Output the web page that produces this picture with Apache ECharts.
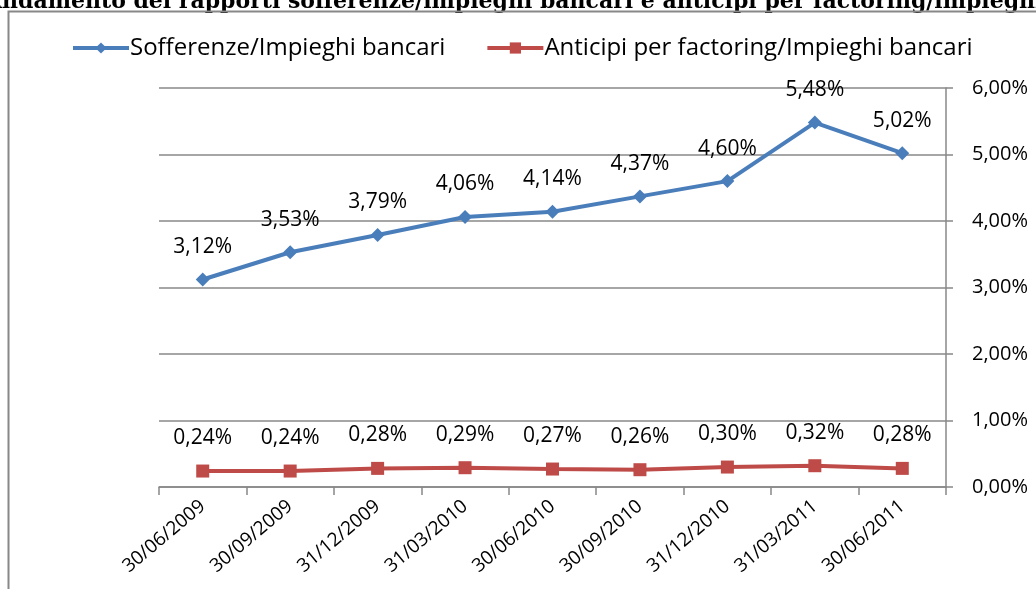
<!DOCTYPE html>
<html>
<head>
<meta charset="utf-8">
<script src="https://cdn.jsdelivr.net/npm/echarts@6/dist/echarts.min.js"></script>
<style>
  html, body { margin: 0; padding: 0; background: #fff; }
  #myChart { width: 1036px; height: 589px; }
</style>
</head>
<body>
<div id="myChart"></div>
<script>
  // dati
  var dates = ['30/06/2009', '30/09/2009', '31/12/2009', '31/03/2010', '30/06/2010',
               '30/09/2010', '31/12/2010', '31/03/2011', '30/06/2011'];
  var sofferenze = [3.12, 3.53, 3.79, 4.06, 4.14, 4.37, 4.60, 5.48, 5.02];
  var anticipi = [0.24, 0.24, 0.28, 0.29, 0.27, 0.26, 0.30, 0.32, 0.28];
  var yTicks = [0, 1, 2, 3, 4, 5, 6];

  var fmt = function (v) {
    return v.toFixed(2).replace('.', ',') + '%';
  };
  var font = '"Open Sans", sans-serif';

  var myChart = echarts.init(document.getElementById('myChart'));
  myChart.setOption({
    backgroundColor: '#fff',
    animation: false,
    textStyle: { fontFamily: font },
    graphic: [{
      // titolo tagliato in alto
      type: 'text',
      left: -15,
      top: -9,
      style: {
        text: 'Andamento dei rapporti sofferenze/impieghi bancari e anticipi per factoring/impieghi bancari',
        font: 'bold 22px "DejaVu Serif", serif',
        fill: '#000'
      }
    }, {
      // cornice del grafico
      type: 'rect',
      shape: { x: 8.5, y: 11.5, width: 1100, height: 700 },
      style: { fill: 'none', stroke: '#888', lineWidth: 2 }
    }],
    legend: {
      top: 31,
      left: 66,
      itemGap: 40,
      itemWidth: 56,
      itemHeight: 14,
      lineStyle: { width: 4 },
      textStyle: { fontSize: 24, color: '#000', fontFamily: font, padding: [0, 0, 0, -4] },
      data: ['Sofferenze/Impieghi bancari', 'Anticipi per factoring/Impieghi bancari']
    },
    grid: {
      left: 159,
      right: 90,
      top: 88,
      bottom: 102,
      containLabel: false
    },
    xAxis: {
      type: 'category',
      boundaryGap: true,
      data: dates,
      axisLine: { lineStyle: { color: '#888', width: 1.5 } },
      axisTick: { show: true, length: 8, alignWithLabel: false, lineStyle: { color: '#888', width: 1.5 } },
      axisLabel: { rotate: 40, fontSize: 19, color: '#000', margin: 17, interval: 0 }
    },
    yAxis: {
      type: 'value',
      position: 'right',
      min: yTicks[0],
      max: yTicks[yTicks.length - 1],
      interval: 1,
      axisLine: { show: true, lineStyle: { color: '#888', width: 1.5 } },
      axisTick: { show: true, length: 7, lineStyle: { color: '#888', width: 1.5 } },
      splitLine: { lineStyle: { color: '#888', width: 1.5 } },
      axisLabel: {
        fontSize: 20,
        color: '#000',
        margin: 26,
        formatter: function (v) { return fmt(v); }
      }
    },
    series: [{
      name: 'Sofferenze/Impieghi bancari',
      type: 'line',
      data: sofferenze,
      symbol: 'diamond',
      symbolSize: 14,
      lineStyle: { color: '#4a7ebb', width: 4 },
      itemStyle: { color: '#4a7ebb' },
      label: {
        show: true,
        position: 'top',
        distance: 15,
        fontSize: 21,
        color: '#000',
        formatter: function (p) { return fmt(p.value); }
      }
    }, {
      name: 'Anticipi per factoring/Impieghi bancari',
      type: 'line',
      data: anticipi,
      symbol: 'rect',
      symbolSize: 13,
      lineStyle: { color: '#be4b48', width: 4 },
      itemStyle: { color: '#be4b48' },
      label: {
        show: true,
        position: 'top',
        distance: 16,
        fontSize: 21,
        color: '#000',
        formatter: function (p) { return fmt(p.value); }
      }
    }]
  });
</script>
</body>
</html>
